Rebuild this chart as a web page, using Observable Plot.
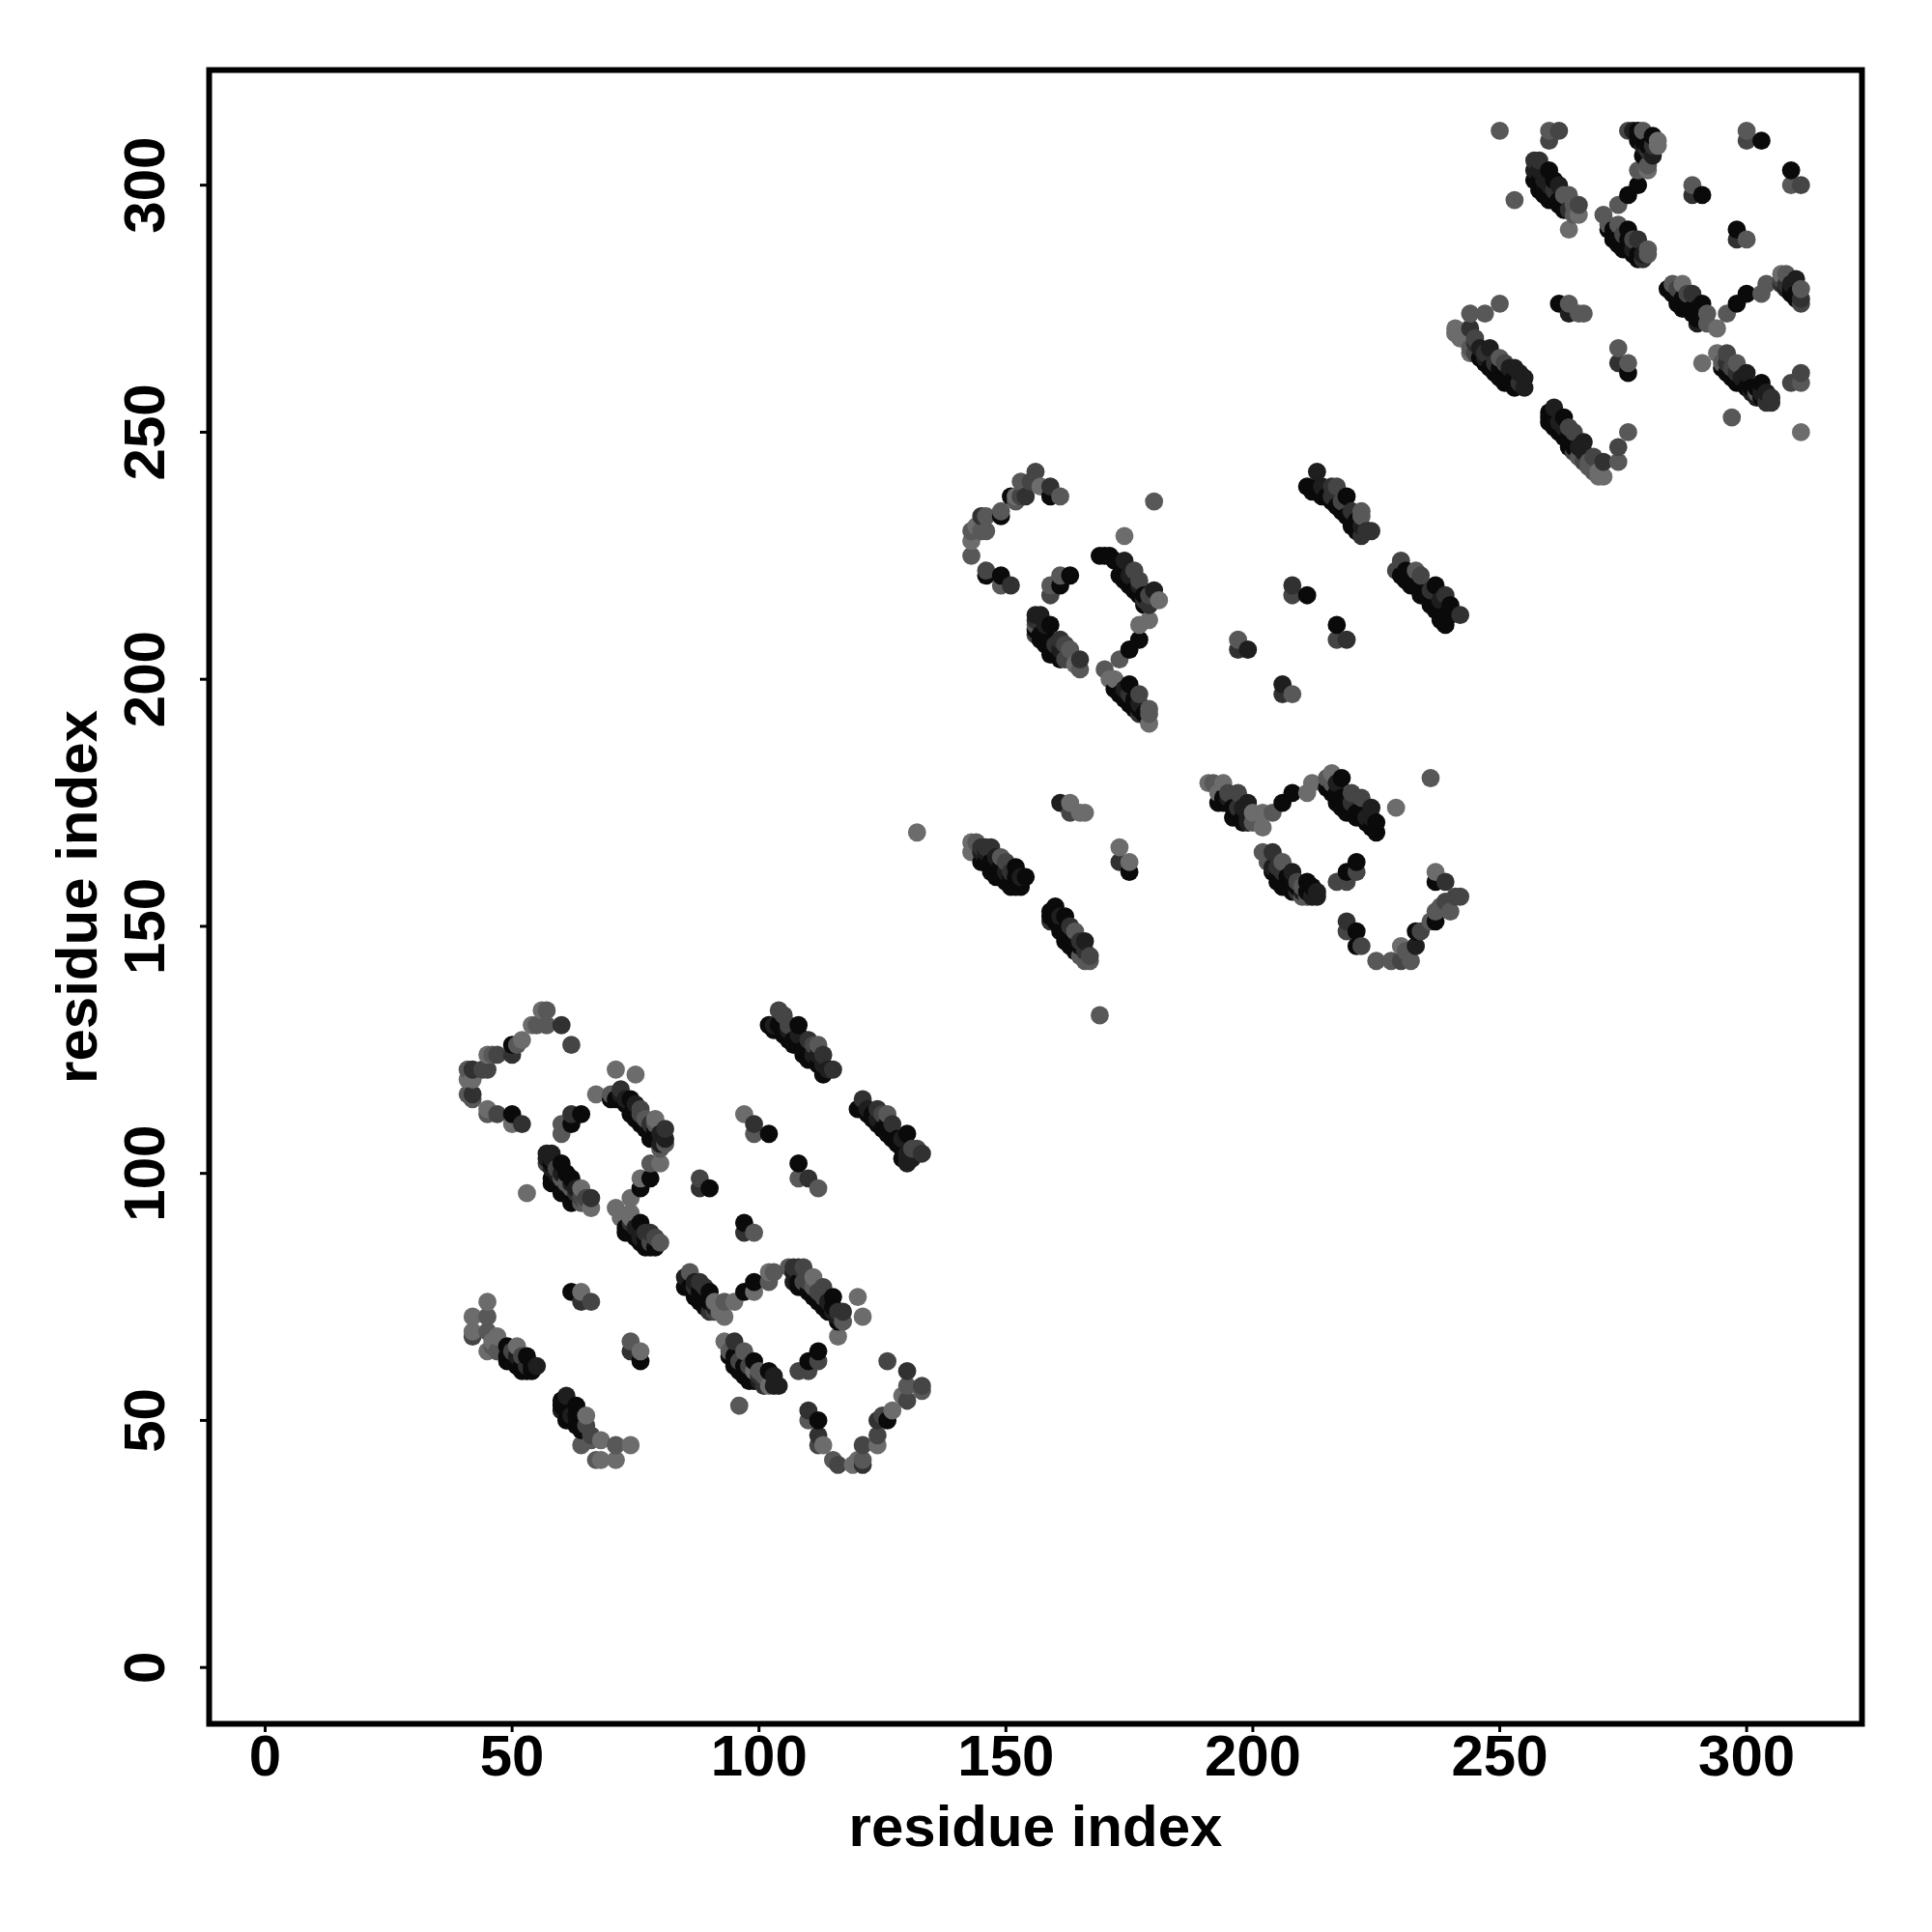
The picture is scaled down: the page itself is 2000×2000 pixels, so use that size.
<!DOCTYPE html>
<html><head><meta charset="utf-8">
<style>html,body{margin:0;padding:0;background:#fff}svg{display:block}</style>
<script src="https://cdn.jsdelivr.net/npm/d3@7"></script>
<script src="https://cdn.jsdelivr.net/npm/@observablehq/plot@0.6"></script>
</head><body><div id="chart"></div>
<script>
// each entry: [residue i, residue j, shade level 0 (darkest) .. 5 (palest)]
const arcA=[[56,133,5],[57,133,4],[54,130,5],[55,130,4],[57,130,4],[60,130,2],[62,126,3],[52,127,5],[51,126,4],[50,126,0],[50,124,2],[47,124,3],[45,124,5],[46,124,4],[45,121,3],[41,121,4],[42,121,2],[44,121,3],[41,119,5],[42,119,5],[41,116,4],[42,116,2],[42,115,4],[45,113,5],[47,112,3],[45,112,4],[50,112,0],[50,110,5],[52,110,2]];
const loopA=[[64,112,0],[62,112,2],[62,110,0],[60,110,4],[60,108,4]];
const bandA=[[57,104,1],[58,104,1],[57,102,3],[57,103,1],[58,103,1],[60,102,0],[58,101,1],[59,100,1],[59,101,3],[58,98,0],[58,99,0],[60,99,4],[62,99,0],[60,96,0],[61,98,4],[62,97,4],[64,97,5],[62,94,0],[64,94,4],[64,95,3],[66,95,2],[66,93,5],[53,96,5],[58,102,0],[59,99,0],[60,100,1],[61,100,0],[61,97,0],[62,98,1],[63,97,1],[63,95,0],[63,96,2],[65,95,3],[65,94,4],[61,96,0]];
const diamondA=[[71,121,5],[75,120,5],[67,116,5],[70,116,4],[72,117,2],[70,115,0],[74,115,0],[72,116,1],[76,113,3],[74,112,0],[79,111,5],[76,110,0],[77,111,4],[78,108,0],[81,109,2],[81,107,1],[80,105,4],[81,106,4],[80,102,5],[78,102,4],[78,99,0],[76,99,5],[76,97,0],[74,95,5],[71,93,5],[72,91,5],[73,89,0],[74,91,5],[76,90,0],[78,88,2],[75,87,0],[77,85,0],[79,85,0],[80,86,4],[74,90,2],[76,87,1],[78,86,3],[71,115,0],[73,114,0],[73,115,1],[75,113,0],[75,111,0],[76,112,3],[77,109,0],[78,110,2],[79,109,0],[79,107,0],[80,108,1],[80,106,1],[78,107,0],[75,114,1],[79,110,4],[73,88,0],[74,88,0],[75,89,1],[76,86,0],[77,87,0],[78,85,0],[77,88,2],[79,87,3],[74,92,5]];
const dotsA=[[88,99,3],[90,97,0],[88,97,2],[97,90,0],[97,88,2],[99,88,4]];
const lowerLeft=[[45,74,5],[42,71,5],[45,71,4],[42,68,5],[42,67,3],[45,68,4],[47,67,5],[45,64,5],[47,64,4],[46,66,5],[46,65,4],[49,65,0],[51,65,5],[49,62,0],[50,64,3],[53,63,0],[55,61,1],[52,60,0],[54,60,0],[53,61,2],[50,62,0],[51,61,0],[52,61,0],[51,63,1],[53,60,0],[49,63,0],[54,61,0],[52,63,3]];
const lowerMid=[[61,55,1],[60,54,0],[63,53,0],[60,52,1],[62,50,0],[65,51,5],[64,48,0],[64,45,4],[66,46,4],[68,46,5],[71,45,4],[74,45,5],[67,42,4],[68,42,5],[71,42,5],[66,47,3],[65,49,3],[60,53,0],[61,52,0],[61,50,0],[62,51,1],[63,49,0],[63,51,0]];
const smallA=[[62,76,0],[64,76,5],[64,74,2],[66,74,3],[74,66,4],[74,64,2],[76,64,5],[76,62,0]];
const bandC=[[86,80,4],[85,79,1],[85,77,0],[88,78,2],[87,75,0],[90,76,0],[89,73,0],[91,74,5],[93,71,5],[95,74,5],[91,72,3],[93,74,4],[97,76,0],[99,76,5],[99,78,0],[102,78,4],[102,80,5],[103,80,4],[87,77,2],[92,72,5],[86,77,0],[87,78,1],[88,76,0],[88,74,0],[89,75,0],[89,77,2],[90,74,0],[90,72,2],[91,73,1]];
const bandD=[[106,81,4],[107,81,2],[108,81,2],[109,81,3],[107,78,1],[111,79,5],[113,77,3],[110,76,0],[115,75,0],[112,74,0],[115,72,1],[117,72,2],[117,70,4],[120,75,5],[121,71,5],[116,67,5],[109,78,3],[111,77,4],[113,75,3],[107,80,1],[108,78,0],[108,77,0],[109,77,0],[110,78,3],[111,75,0],[112,76,3],[113,73,0],[114,74,1],[114,72,0],[115,73,0],[116,71,1],[116,72,2],[116,70,0]];
const bandE=[[93,66,5],[95,66,2],[94,64,4],[97,64,4],[95,61,0],[99,62,0],[97,59,0],[99,60,5],[100,58,1],[102,60,0],[102,57,5],[104,57,1],[96,53,4],[96,62,3],[98,61,3],[101,59,4],[94,63,0],[95,63,0],[96,61,0],[96,60,0],[97,61,0],[98,59,0],[98,58,0],[99,58,0],[100,60,4],[100,59,2],[101,57,2],[103,57,1],[103,59,1]];
const smallB=[[108,60,3],[110,60,3],[110,62,0],[112,62,3],[112,64,0]];
const arcB=[[126,62,3],[130,60,2],[130,57,4],[133,57,3],[133,56,4],[129,55,5],[130,54,3],[127,52,5],[126,50,0],[124,50,2],[124,47,3],[124,45,5],[121,45,3],[121,42,4],[121,41,2],[119,41,5],[116,41,3],[115,42,4],[110,52,2],[110,50,4],[112,50,0],[112,47,2],[113,45,5],[112,45,3],[125,51,3],[120,42,5]];
const dotsB=[[97,112,5],[99,110,2],[99,108,4],[102,108,0],[108,102,0],[108,99,4],[110,99,2],[112,97,4]];
const bandF=[[104,133,3],[105,132,3],[102,130,0],[104,130,0],[108,130,0],[106,130,3],[105,128,0],[107,127,0],[110,127,2],[112,126,4],[109,125,0],[113,124,2],[111,123,0],[115,121,2],[113,120,0],[103,130,1],[106,129,1],[108,128,1],[111,126,3],[103,129,0],[105,129,0],[106,127,0],[107,126,0],[108,126,0],[109,124,0],[110,125,0],[110,123,0],[111,124,1],[112,122,0],[112,124,1],[114,121,1],[113,122,1]];
const bandG=[[121,115,2],[120,113,0],[124,113,2],[126,112,4],[123,111,0],[127,110,2],[125,109,0],[130,108,0],[127,107,0],[129,105,0],[132,105,3],[133,104,2],[130,102,1],[122,113,1],[125,112,3],[130,104,1],[131,105,3],[121,113,0],[122,112,0],[123,112,0],[124,110,0],[124,111,1],[126,108,0],[126,110,0],[128,106,0],[128,107,0],[129,107,1],[129,103,0],[130,103,1],[131,103,1]];
const arcC=[[156,242,3],[153,240,4],[155,240,3],[157,239,5],[159,239,2],[159,237,0],[161,237,4],[154,237,2],[151,237,0],[152,237,5],[149,234,4],[149,233,0],[146,233,4],[145,233,2],[146,230,4],[144,231,5],[143,230,4],[143,228,5],[143,225,4],[146,222,3],[146,221,0],[149,221,0],[149,219,4],[151,219,2],[153,237,3],[152,236,4],[145,230,4]];
const loopC=[[163,221,0],[161,221,4],[161,219,0],[159,219,4],[159,217,3],[180,236,4],[174,229,5]];
const diamondC=[[169,225,0],[171,225,0],[170,225,0],[174,224,1],[173,221,0],[176,222,3],[177,220,3],[175,219,0],[177,217,0],[180,218,1],[181,216,5],[179,215,2],[179,212,5],[177,211,5],[177,208,0],[175,206,0],[173,204,4],[170,202,4],[171,200,5],[172,200,5],[172,198,0],[175,199,0],[177,197,3],[174,196,0],[176,194,0],[179,194,4],[179,193,4],[179,191,5],[177,193,2],[175,197,2],[178,216,2],[172,224,0],[174,220,0],[175,221,1],[176,218,0],[177,219,1],[178,217,0],[178,215,0],[179,217,3],[173,197,0],[174,198,1],[175,195,0],[176,196,0],[177,195,1],[178,193,0],[177,194,0]];
const bandH=[[157,213,1],[156,213,1],[156,211,4],[159,211,0],[157,209,0],[161,208,2],[158,207,0],[160,205,0],[163,206,4],[162,204,3],[165,204,2],[165,202,4],[164,203,5],[162,207,3],[156,212,2],[156,210,0],[157,208,0],[158,209,0],[159,207,0],[159,205,0],[160,207,2],[161,204,0],[161,206,1],[163,204,3],[158,211,1],[156,209,3]];
const bandI=[[213,242,1],[211,239,0],[213,239,0],[216,239,2],[217,239,3],[216,236,0],[219,237,0],[218,234,0],[222,234,4],[222,233,4],[220,232,0],[224,230,2],[222,229,2],[214,239,1],[218,236,3],[212,238,0],[214,237,0],[215,237,0],[216,237,2],[217,235,0],[219,233,0],[220,234,2],[220,231,0],[221,232,0],[221,230,0],[222,231,1],[223,230,2]];
const bandJ=[[230,224,3],[229,222,3],[231,222,0],[233,222,4],[234,221,3],[232,220,0],[237,219,0],[234,218,0],[239,217,2],[236,216,0],[242,213,2],[240,213,0],[239,211,0],[236,218,2],[238,216,1],[230,221,0],[231,220,0],[232,219,0],[233,219,0],[234,217,0],[235,217,0],[236,215,0],[237,214,0],[238,214,0],[239,213,0],[238,212,0],[240,215,0]];
const smallC=[[208,219,2],[208,217,3],[211,217,0],[217,211,0],[217,208,3],[219,208,2],[197,208,4],[197,206,2],[199,206,1],[206,199,1],[206,197,2],[208,197,4]];
const bandK=[[143,167,5],[144,167,4],[143,165,5],[147,166,2],[145,166,2],[145,163,0],[149,164,4],[150,163,3],[148,162,0],[152,162,0],[154,160,0],[149,160,0],[151,158,0],[153,158,0],[132,169,5],[146,165,1],[151,161,2],[153,160,1],[146,163,0],[147,163,0],[147,161,0],[148,160,0],[149,162,0],[150,159,0],[151,160,0],[152,158,0],[150,161,1],[152,160,0],[153,159,0],[145,165,1],[146,166,2],[148,164,1]];
const bandL=[[160,154,0],[159,153,0],[159,151,2],[162,152,0],[164,149,4],[163,150,2],[161,149,0],[166,147,1],[163,146,0],[167,144,3],[167,143,4],[165,144,4],[169,132,4],[161,152,1],[165,147,2],[159,152,0],[160,151,0],[161,150,0],[162,149,0],[162,147,0],[163,148,0],[164,147,0],[164,145,0],[165,146,0],[166,145,2],[160,152,0],[166,143,4]];
const smallD=[[161,175,1],[163,175,5],[163,173,3],[166,173,5],[165,173,5],[173,166,5],[173,163,2],[175,163,5],[175,161,0]];
const bandM=[[191,179,5],[192,179,4],[194,179,5],[193,177,5],[194,176,0],[197,177,3],[196,174,0],[199,175,1],[198,172,0],[200,173,5],[200,171,4],[202,170,5],[204,173,4],[202,173,5],[195,177,3],[197,174,2],[199,172,1],[193,175,0],[194,175,0],[195,175,0],[196,172,0],[197,173,0],[198,174,1],[198,171,0],[199,171,1],[195,176,1]];
const linkM=[[206,175,0],[208,177,0],[211,177,5],[212,179,5],[215,180,4],[216,181,5],[218,180,0],[216,179,4],[215,178,0],[217,177,0],[220,177,3],[222,176,3],[219,175,0],[224,174,1],[221,173,0],[225,171,0],[224,170,0],[225,169,0],[229,174,5],[236,180,4],[217,179,1],[220,175,2],[216,177,0],[217,175,0],[218,176,0],[218,174,0],[219,173,0],[220,173,0],[221,172,0],[222,173,0],[223,172,1],[223,171,0],[224,172,1],[216,178,0]];
const bandN=[[202,165,4],[204,165,2],[203,163,4],[206,163,4],[205,160,0],[208,161,1],[207,158,0],[211,159,0],[209,157,2],[210,156,4],[213,157,1],[213,156,1],[211,156,4],[204,162,1],[206,161,2],[209,159,3],[210,158,4],[204,161,0],[205,159,0],[206,159,0],[206,158,0],[207,160,0],[208,159,0],[208,157,0],[209,158,0],[210,157,1],[211,157,0],[212,156,1],[205,162,2],[212,158,0]];
const smallE=[[217,159,3],[219,159,3],[219,161,0],[221,161,3],[221,163,0]];
const arcD=[[219,151,2],[219,149,3],[221,149,0],[221,146,0],[222,146,3],[225,143,4],[228,143,4],[230,143,3],[230,146,5],[231,145,4],[233,146,1],[233,149,0],[234,149,3],[236,151,4],[237,151,0],[237,153,4],[238,154,4],[240,153,4],[242,156,3],[241,156,3],[239,159,2],[237,161,5],[237,159,0],[232,143,4],[239,155,3]];
const highA=[[250,311,4],[260,311,4],[262,311,3],[260,309,3],[253,297,4],[264,291,5],[257,305,2],[258,305,2],[260,303,0],[257,301,0],[262,300,1],[258,299,0],[264,298,4],[260,297,0],[266,296,3],[266,294,5],[264,295,2],[262,296,0],[258,303,1],[259,301,1],[261,299,2],[263,298,4],[265,296,4],[257,303,1],[258,301,0],[259,299,0],[259,298,0],[260,299,0],[261,297,0],[262,297,0],[263,296,0],[261,301,0],[260,300,1],[263,295,0],[265,294,4]];
const highB=[[276,311,3],[278,311,0],[279,311,4],[281,310,0],[278,309,0],[280,307,2],[282,308,5],[282,309,5],[280,304,4],[278,303,4],[280,303,5],[278,300,0],[276,298,0],[274,296,4],[271,294,4],[272,292,4],[274,292,4],[273,291,0],[273,290,0],[276,291,0],[275,288,0],[278,289,2],[277,286,0],[280,287,4],[280,286,4],[279,285,2],[277,311,1],[279,308,1],[275,290,3],[277,289,3],[272,291,0],[273,289,0],[274,288,0],[274,290,0],[275,287,0],[276,287,0],[276,289,0],[277,287,1],[278,285,0],[278,286,0],[279,286,1],[278,310,0],[279,309,0],[280,308,0],[279,306,0],[281,306,1],[281,308,2]];
const highC=[[244,274,4],[247,274,4],[250,276,4],[262,276,0],[264,276,4],[264,274,1],[267,274,4],[266,274,4],[274,267,4],[274,264,2],[276,264,4],[276,262,0]];
const highD=[[241,271,5],[241,270,5],[242,269,5],[244,271,2],[245,269,3],[244,267,4],[244,266,5],[246,267,1],[248,267,1],[245,266,3],[247,264,0],[250,265,4],[251,264,3],[250,261,0],[253,263,1],[255,261,1],[252,260,0],[254,260,2],[247,266,2],[249,264,2],[252,263,1],[246,265,0],[247,265,1],[248,263,0],[249,262,0],[250,263,0],[251,260,0],[251,262,0],[252,261,0],[253,259,0],[254,262,1],[255,259,1],[253,261,0],[245,268,2]];
const highE=[[261,255,1],[260,254,0],[260,252,0],[263,253,0],[262,250,0],[264,251,3],[265,250,3],[264,247,0],[267,248,1],[266,245,4],[269,245,3],[271,244,2],[269,242,4],[271,241,5],[270,242,5],[274,244,4],[274,247,3],[276,250,4],[262,252,1],[267,246,1],[268,244,4],[270,241,5],[260,253,0],[261,251,0],[262,251,0],[263,249,0],[264,248,0],[264,249,0],[265,247,0],[265,246,3],[266,247,1],[267,244,3],[268,243,4],[263,251,1],[261,253,0]];
const highF=[[291,264,5],[294,266,5],[296,266,3],[295,264,4],[298,264,4],[296,262,0],[300,262,1],[299,260,0],[303,260,0],[301,258,1],[302,258,4],[305,257,2],[305,256,2],[303,257,0],[309,260,3],[311,262,3],[311,260,4],[297,253,4],[311,250,5],[298,262,2],[295,263,0],[296,264,2],[297,261,0],[298,260,0],[299,261,1],[300,259,0],[301,259,0],[302,259,0],[302,257,1],[304,258,1],[303,258,1],[304,256,2],[297,263,3]];
const highG=[[300,311,4],[300,309,3],[303,309,0],[309,303,0],[309,300,4],[311,300,3],[289,300,4],[289,298,2],[291,298,0],[298,291,0],[298,289,2],[300,289,4]];
const highH=[[285,280,4],[284,279,0],[287,280,5],[286,277,0],[289,278,2],[288,275,0],[291,276,0],[290,273,0],[292,274,4],[292,272,4],[294,271,5],[296,274,4],[298,276,0],[300,278,0],[303,278,4],[304,280,4],[307,282,5],[308,282,4],[307,280,2],[310,281,1],[309,278,0],[311,279,4],[311,277,2],[311,276,3],[308,280,2],[286,279,3],[288,278,3],[285,278,0],[286,276,0],[287,277,0],[287,275,0],[288,276,0],[289,274,0],[289,275,0],[290,275,0],[291,273,0],[290,272,1],[309,280,1],[309,279,0],[310,277,0],[310,278,0],[308,279,1],[307,281,3]];

const clusters=[arcA,loopA,bandA,diamondA,dotsA,lowerLeft,lowerMid,smallA,bandC,bandD,bandE,smallB,arcB,dotsB,bandF,bandG,arcC,loopC,diamondC,bandH,bandI,bandJ,smallC,bandK,bandL,smallD,bandM,linkM,bandN,smallE,arcD,highA,highB,highC,highD,highE,highF,highG,highH];
const contacts=d3.sort(clusters.flat(),d=>d[0],d=>d[1]).map(([i,j,shade])=>({i,j,shade}));
const tickValues=[0,50,100,150,200,250,300];
const axisTitle="residue index";

const font={fontFamily:"'Liberation Sans',Arial,sans-serif",fontWeight:"bold"};
const chart=Plot.plot({
  width:2000,height:2000,
  marginLeft:216,marginRight:73,marginTop:72,marginBottom:216,
  style:{background:"#fff",color:"#000",...font},
  x:{domain:[-11.35,323.35],label:null},
  y:{domain:[-11.4,323.3],label:null},
  color:{type:"linear",domain:[0,5],range:["#0a0a0a","#6c6c6c"],interpolate:"rgb"},
  marks:[
    Plot.dot(contacts,{x:"i",y:"j",fill:"shade",r:9.4}),
    Plot.axisX({ticks:tickValues,tickSize:9,tickPadding:2,strokeWidth:3,fontSize:60,label:null,tickFormat:d=>String(d)}),
    Plot.axisY({ticks:tickValues,tickSize:9,tickPadding:38,strokeWidth:3,fontSize:60,label:null,tickRotate:-90,tickFormat:d=>String(d),textAnchor:"middle"}),
    Plot.frame({stroke:"#000",strokeWidth:6}),
    Plot.text([axisTitle],{frameAnchor:"bottom",dy:107,fontSize:60,fontWeight:"bold",fill:"#000",text:d=>d,lineAnchor:"middle",textAnchor:"middle"}),
    Plot.text([axisTitle],{frameAnchor:"left",dx:-136,rotate:-90,fontSize:60,fontWeight:"bold",fill:"#000",text:d=>d,lineAnchor:"middle",textAnchor:"middle"})
  ]
});
document.getElementById("chart").appendChild(chart);
</script></body></html>
